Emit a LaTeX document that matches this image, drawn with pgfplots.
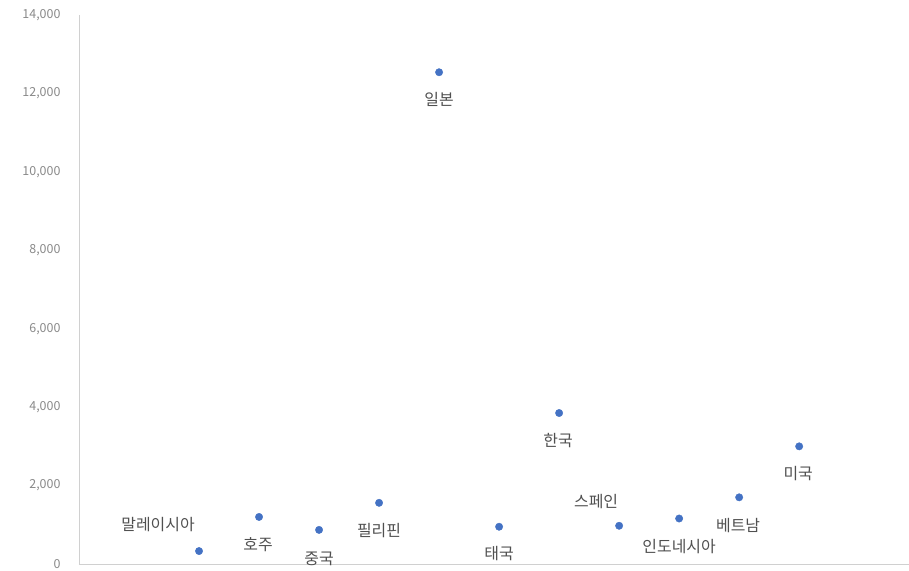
\documentclass[border=0pt]{standalone}
\usepackage{pgfplots}
\pgfplotsset{compat=1.18}
\usepackage{fontspec}
\setmainfont{Noto Sans CJK KR}
\definecolor{ptblue}{HTML}{4472C4}
\definecolor{lblgray}{HTML}{505050}
\definecolor{tickgray}{HTML}{8A8A8A}
\definecolor{axgray}{HTML}{D0D0D0}

\begin{document}
\begin{tikzpicture}
\begin{axis}[name=ax,
    scale only axis, width=830bp, height=549bp,
    xmin=0, xmax=13.83, ymin=0, ymax=14000,
    axis lines=left,
    axis line style={draw=axgray, line width=0.9bp, -},
    xtick=\empty,
    ytick={0,2000,...,14000},
    major tick length=0pt,
    scaled y ticks=false,
    /pgf/number format/assume math mode=true,
    /pgf/number format/1000 sep={,},
    yticklabel style={font=\fontsize{12.5}{14}\selectfont, text=tickgray, xshift=-15bp},
    clip=false,
  ]
  % 방문객 수 (점) 과 이름표 위치 (dx, dy)
  \addplot[only marks, mark=*, mark size=3.7bp, color=ptblue,
    visualization depends on={\thisrow{dx}\as\dx},
    visualization depends on={\thisrow{dy}\as\dy},
    nodes near coords, point meta=explicit symbolic,
    nodes near coords style={anchor=center, inner sep=0pt,
      font=\fontsize{16}{18}\selectfont, text=lblgray,
      xshift=\dx bp, yshift=\dy bp},
  ] table[meta=label] {
    x  y      label        dx   dy
    2  330    말레이시아   -41  27
    3  1200   호주         -1   -28
    4  870    중국         0    -29
    5  1560   필리핀       0    -28
    6  12540  일본         0    -27
    7  950    태국         0    -27
    8  3850   한국         -1   -28
    9  975    스페인       -23  24
    10 1160   인도네시아   0    -28
    11 1700   베트남       -1   -28
    12 3000   미국         -1   -27
  };
\end{axis}
\pgfresetboundingbox
\path ([shift={(-79bp,-7bp)}]ax.south west) rectangle ([shift={(0bp,15bp)}]ax.north east);
\end{tikzpicture}
\end{document}
